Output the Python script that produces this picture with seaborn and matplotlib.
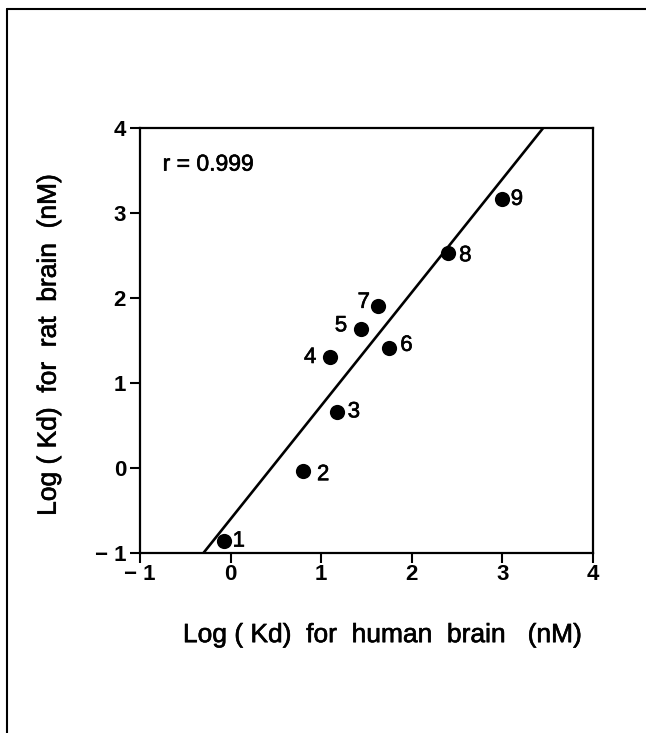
import matplotlib
matplotlib.use("Agg")
import matplotlib.pyplot as plt
import matplotlib.patheffects as pe
import seaborn as sns
import pandas as pd
from matplotlib.lines import Line2D

# ---- data ----
compound_ids = ["1", "2", "3", "4", "5", "6", "7", "8", "9"]
log_kd_human = [-0.07, 0.80, 1.17, 1.10, 1.44, 1.75, 1.63, 2.40, 3.00]
log_kd_rat = [-0.86, -0.03, 0.66, 1.30, 1.64, 1.41, 1.90, 2.53, 3.16]
fit_x = [-0.30, 3.45]
fit_y = [-1.0, 4.0]
x_ticks = [-1, 0, 1, 2, 3, 4]
y_ticks = [-1, 0, 1, 2, 3, 4]
x_tick_labels = ["\u2212 1", "0", "1", "2", "3", "4"]
y_tick_labels = ["\u2212 1", "0", "1", "2", "3", "4"]
r_text = "r = 0.999"

# label offsets (points): right of the dot except 4, 5, 7
label_offsets = {
    "1": (6, 0), "2": (10, -3), "3": (8, 0), "4": (-10, 0), "5": (-10, 2),
    "6": (8, 2), "7": (-6, 3), "8": (8, -2), "9": (6, 0),
}

df = pd.DataFrame({"id": compound_ids, "human": log_kd_human, "rat": log_kd_rat})

sns.set_theme(style="white")
plt.rcParams["font.family"] = ["Liberation Sans", "DejaVu Sans"]

heavy = [pe.withStroke(linewidth=0.45, foreground="black")]

fig = plt.figure(figsize=(6.46, 7.33), dpi=100)
ax = fig.add_axes([140 / 646, 1 - 553 / 733, (593 - 140) / 646, (553 - 128) / 733])

sns.lineplot(x=fit_x, y=fit_y, ax=ax, color="black", linewidth=1.9, clip_on=True)
sns.scatterplot(data=df, x="human", y="rat", ax=ax, color="black", s=120,
                edgecolor="black", linewidth=0, zorder=3, clip_on=False)

for _, row in df.iterrows():
    dx, dy = label_offsets[row["id"]]
    ha = "left" if dx > 0 else "right"
    ax.annotate(row["id"], (row["human"], row["rat"]), xytext=(dx, dy),
                textcoords="offset points", ha=ha, va="center",
                fontsize=16, color="black", path_effects=heavy)

ax.text(0.05, 0.915, r_text, transform=ax.transAxes, fontsize=16.5,
        ha="left", va="center", color="black", path_effects=heavy)

ax.set_xlim(-1, 4)
ax.set_ylim(-1, 4)
ax.set_xticks(x_ticks)
ax.set_xticklabels(x_tick_labels)
ax.set_yticks(y_ticks)
ax.set_yticklabels(y_tick_labels)
ax.tick_params(axis="x", which="both", direction="out", length=7, width=1.5,
               colors="black", labelsize=16, pad=1, bottom=True)
ax.tick_params(axis="y", which="both", direction="out", length=7, width=1.5,
               colors="black", labelsize=16, pad=3, left=True)
for lab in ax.get_xticklabels() + ax.get_yticklabels():
    lab.set_fontweight("bold")

for sp in ax.spines.values():
    sp.set_visible(True)
    sp.set_color("black")
    sp.set_linewidth(1.6)

ax.set_xlabel("Log ( Kd)  for  human  brain   (nM)", fontsize=19, color="black",
              path_effects=heavy)
ax.set_ylabel("Log ( Kd)  for  rat  brain  (nM)", fontsize=19, color="black",
              path_effects=heavy)
ax.xaxis.set_label_coords(0.536, -0.165)
ax.yaxis.set_label_coords(-0.175, 0.49)
ax.grid(False)

# outer frame (top and left edges only visible)
fig.add_artist(Line2D([7 / 646, 1.0], [1 - 8.5 / 733, 1 - 8.5 / 733],
                      transform=fig.transFigure, color="black", linewidth=1.5))
fig.add_artist(Line2D([7 / 646, 7 / 646], [0.0, 1 - 8.5 / 733],
                      transform=fig.transFigure, color="black", linewidth=1.5))

fig.savefig("out.png", dpi=100)
